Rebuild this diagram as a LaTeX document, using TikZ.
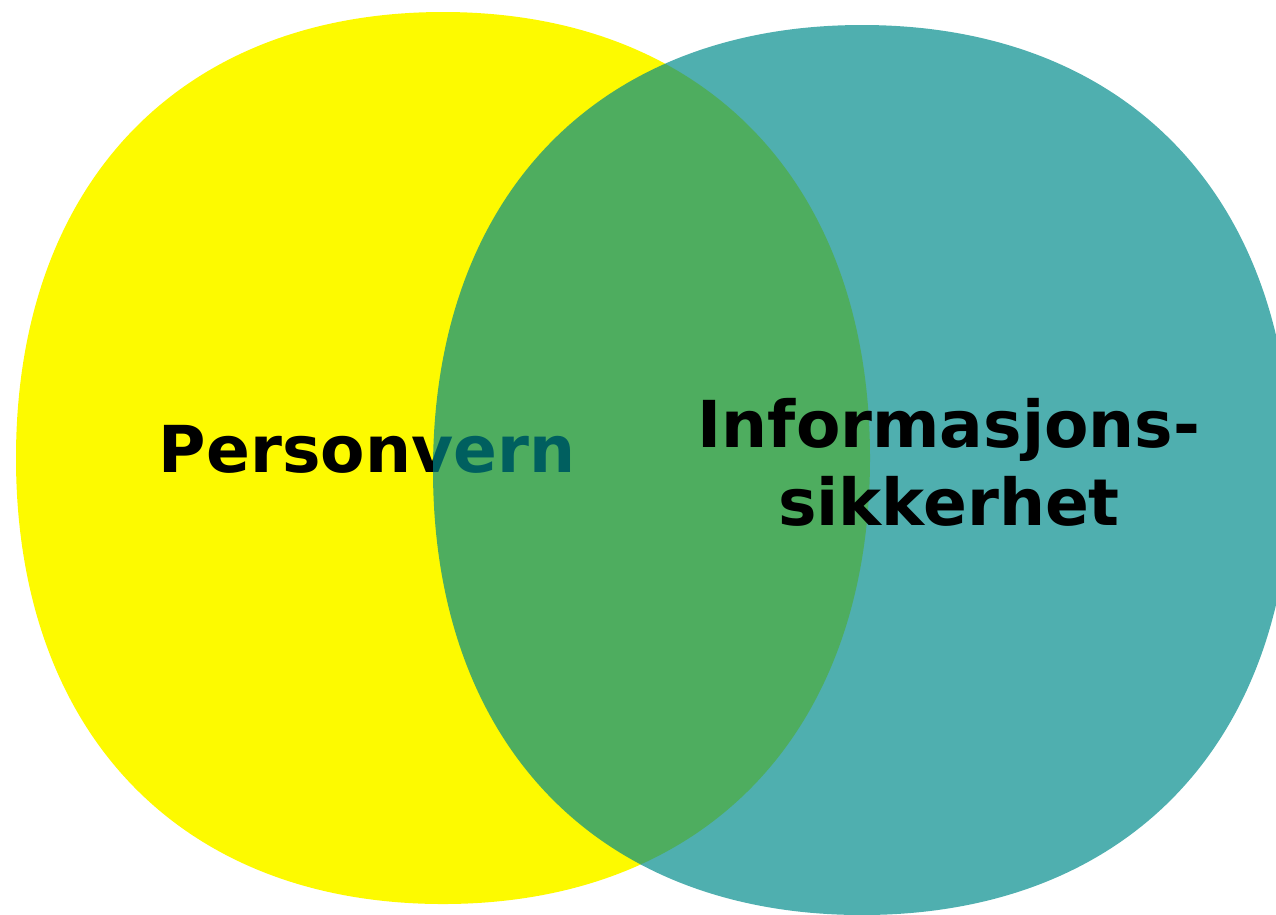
\documentclass[tikz,border=0pt]{standalone}
\usepackage{fontspec}
\setmainfont{DejaVu Sans}
\usepackage{xcolor}
\usetikzlibrary{positioning}
\definecolor{vennyellow}{RGB}{253,250,0}
\definecolor{venncyan}{RGB}{0,139,139}
\definecolor{venntext}{RGB}{0,0,0}
\tikzset{%
	leftset/.style  = {fill=vennyellow},
	rightset/.style = {fill=venncyan, fill opacity=0.69},
	label/.style    = {font=\fontsize{18.4}{22}\selectfont\bfseries, text=venntext, align=center, inner sep=0pt},
}

\begin{document}
\begin{tikzpicture}[x=0.01cm,y=-0.01cm]
	\useasboundingbox (0,0) rectangle (1276,914);
	\clip (0,0) rectangle (1276,914);
	% left set
	\fill[leftset] (16,458) .. controls (16,184) and (180,12) .. (443,12)
		.. controls (706,12) and (870,184) .. (870,458)
		.. controls (870,732) and (706,904) .. (443,904)
		.. controls (180,904) and (16,732) .. (16,458) -- cycle;
	\node[label, anchor=base] (privacy) at (367,472) {Personvern};
	
	% right set, see-through
	\fill[rightset] (433,470) .. controls (433,196) and (598,25) .. (862,25)
		.. controls (1126,25) and (1291,196) .. (1291,470)
		.. controls (1291,744) and (1126,915) .. (862,915)
		.. controls (598,915) and (433,744) .. (433,470) -- cycle;
	\node[label, anchor=base] (security) at (949,525) {Informasjons-\\sikkerhet};
\end{tikzpicture}
\end{document}
